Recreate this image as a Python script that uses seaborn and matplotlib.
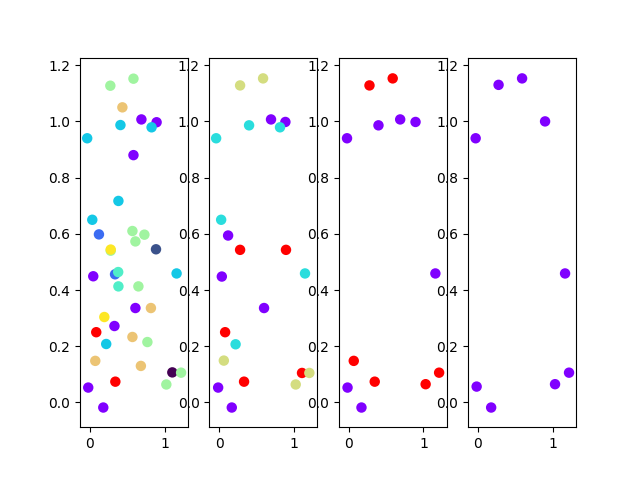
import matplotlib
matplotlib.use("Agg")
import matplotlib.pyplot as plt
import seaborn as sns
import pandas as pd

# colours of the groups
palette = {
    "purple": "#8000ff",
    "red": "#ff0000",
    "cyan": "#14c8e6",
    "cyan2": "#2adddd",
    "blue": "#3b6cf2",
    "aqua": "#50eec8",
    "lightgreen": "#a0f4a0",
    "tan": "#ecc474",
    "olive": "#d4dd80",
    "yellow": "#fde725",
    "navy": "#3b528b",
    "darkpurple": "#440154",
}

# panel 1
x1 = [0.275, 0.584, 0.436, 0.69, 0.893, 0.41, 0.826, -0.034, 0.584,
      0.383, 0.034, 0.123, 0.57, 0.73, 0.61, 0.28, 0.28, 0.885,
      0.047, 0.338, 0.38, 1.16, 0.383, 0.65,
      0.61, 0.817, 0.195, 0.33, 0.087, 0.57, 0.77, 0.22, 0.074, 0.683,
      1.103, 1.22, 1.023, 0.342, -0.02, 0.181]
y1 = [1.127, 1.152, 1.05, 1.007, 0.997, 0.987, 0.979, 0.94, 0.88,
      0.717, 0.65, 0.598, 0.61, 0.597, 0.573, 0.54, 0.544, 0.545,
      0.449, 0.456, 0.464, 0.459, 0.413, 0.413,
      0.336, 0.336, 0.304, 0.272, 0.25, 0.233, 0.215, 0.208, 0.148, 0.13,
      0.107, 0.106, 0.064, 0.074, 0.053, -0.018]
g1 = ["lightgreen", "lightgreen", "tan", "purple", "purple", "cyan", "cyan", "cyan", "purple",
      "cyan", "cyan", "blue", "lightgreen", "lightgreen", "lightgreen", "lightgreen", "yellow", "navy",
      "purple", "blue", "aqua", "cyan", "aqua", "lightgreen",
      "purple", "tan", "yellow", "purple", "red", "tan", "lightgreen", "cyan", "tan", "tan",
      "darkpurple", "lightgreen", "lightgreen", "red", "purple", "purple"]

# panel 2
x2 = [-0.04, 0.28, 0.587, 0.40, 0.693, 0.885, 0.813, 0.027, 0.12,
      0.28, 0.893, 0.036, 1.147, 0.6, 0.08, 0.22, 0.063, 1.107, 1.205,
      1.023, 0.333, -0.013, 0.169]
y2 = [0.94, 1.128, 1.153, 0.986, 1.007, 0.998, 0.979, 0.65, 0.594,
      0.543, 0.543, 0.448, 0.459, 0.336, 0.25, 0.207, 0.149, 0.105, 0.105,
      0.064, 0.074, 0.053, -0.018]
g2 = ["cyan2", "olive", "olive", "cyan2", "purple", "purple", "cyan2", "cyan2", "purple",
      "red", "red", "purple", "cyan2", "purple", "red", "cyan2", "olive", "red", "olive",
      "olive", "red", "purple", "purple"]

# panel 3
x3 = [-0.02, 0.28, 0.59, 0.40, 0.69, 0.895, 1.16, 0.07, -0.013, 0.173, 0.35, 1.03, 1.21]
y3 = [0.94, 1.128, 1.153, 0.986, 1.007, 0.998, 0.459, 0.148, 0.053, -0.018, 0.074, 0.065, 0.106]
g3 = ["purple", "red", "red", "purple", "purple", "purple", "purple", "red", "purple",
      "purple", "red", "red", "red"]

# panel 4
x4 = [-0.03, 0.276, 0.59, 0.897, 1.164, -0.017, 0.177, 1.03, 1.217]
y4 = [0.94, 1.13, 1.153, 1.0, 0.459, 0.0565, -0.018, 0.065, 0.106]
g4 = ["purple"] * 9

panels = [(x1, y1, g1), (x2, y2, g2), (x3, y3, g3), (x4, y4, g4)]

fig, axes = plt.subplots(1, 4, figsize=(6.4, 4.8), dpi=100)
for ax, (xs, ys, gs) in zip(axes, panels):
    df = pd.DataFrame({"x": xs, "y": ys, "g": gs})
    sns.scatterplot(data=df, x="x", y="y", hue="g", palette=palette,
                    s=36, edgecolor="face", linewidth=1.5, legend=False, ax=ax)
    ax.set_xlim(-0.13, 1.31)
    ax.set_ylim(-0.088, 1.227)
    ax.set_xlabel("")
    ax.set_ylabel("")

fig.savefig("out.png")
